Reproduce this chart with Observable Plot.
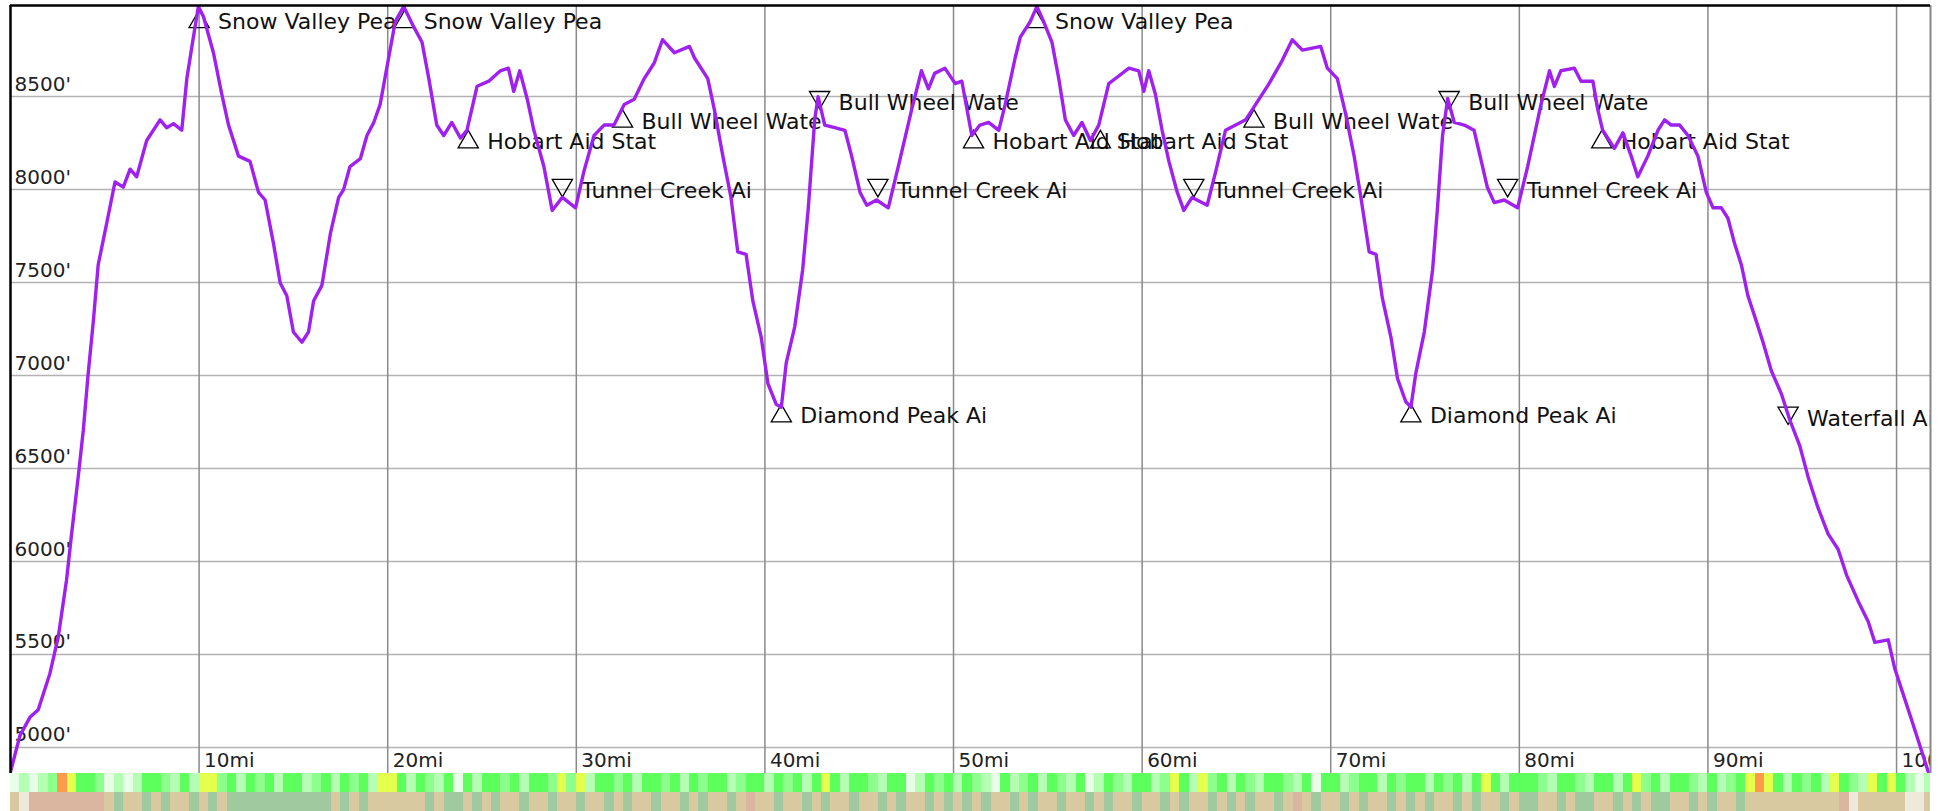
<!DOCTYPE html>
<html><head><meta charset="utf-8">
<script src="https://cdn.jsdelivr.net/npm/d3@7"></script>
<script src="https://cdn.jsdelivr.net/npm/@observablehq/plot@0.6"></script>
<style>body{margin:0;background:#fff} #chart svg{display:block}</style>
</head><body><div id="chart"></div>
<script>
// ---- profile (mile, elevation ft) ----
const miles = [0,0.5,1.03,1.47,2.09,2.53,2.97,3.24,3.59,3.86,4.12,4.39,4.65,5.1,5.54,5.98,6.34,6.69,7.22,7.93,8.28,8.64,9.08,9.35,9.61,9.96,10.23,10.76,11.2,11.56,12.09,12.7,13.15,13.5,13.95,14.3,14.65,15,15.45,15.8,16.07,16.51,16.96,17.4,17.66,18,18.55,18.9,19.26,19.6,20.05,20.4,20.85,21.38,21.82,22.18,22.6,22.97,23.4,23.86,24.2,24.74,25.36,25.97,26.4,26.68,27,27.4,27.75,28.28,28.72,29.26,29.96,30.4,30.94,31.47,32,32.54,33.07,33.6,34.13,34.57,35.2,36,36.26,36.97,37.32,37.77,38.2,38.56,39,39.36,39.8,40.16,40.6,40.87,41.13,41.58,42,42.3,42.64,42.82,43.17,43.7,44.24,44.6,45.04,45.4,45.92,46.54,47.07,47.78,48.3,48.67,49,49.54,50.09,50.44,50.97,51.4,51.86,52.4,52.74,53.27,53.54,54.07,54.42,54.78,55.22,55.58,55.93,56.37,56.81,57.26,57.7,58.23,58.76,59.3,59.82,60.09,60.35,60.7,61.06,61.42,61.86,62.21,62.65,63.45,63.9,64.42,64.96,65.49,66.02,66.73,67.43,67.96,68.5,69.47,69.82,70.35,70.8,71.24,71.6,72.04,72.4,72.74,73.19,73.54,73.98,74.25,74.51,74.96,75.4,75.66,75.93,76.2,76.55,77.08,77.6,78.05,78.3,78.67,79.2,79.91,80.44,81.15,81.6,81.86,82.2,82.92,83.27,83.9,84.16,84.42,85.04,85.49,85.93,86.28,86.81,87.35,87.7,88.05,88.5,88.94,89.47,89.91,90.27,90.71,91.06,91.42,91.77,92.12,92.57,92.92,93.36,93.9,94.34,94.87,95.31,95.84,96.37,96.9,97.35,97.96,98.5,98.85,99.56,99.9,100.35,100.8,101.24,101.68];
const elevation = [4869,5064,5162,5203,5398,5593,5899,6149,6455,6706,7012,7290,7596,7818,8041,8013,8110,8069,8264,8375,8333,8355,8319,8597,8764,8985,8931,8736,8514,8347,8180,8152,7985,7944,7707,7498,7429,7234,7179,7234,7401,7485,7763,7958,8000,8124,8166,8291,8361,8458,8709,8903,8985,8875,8792,8597,8347,8291,8361,8277,8319,8556,8583,8639,8653,8528,8639,8486,8319,8124,7888,7958,7902,8097,8291,8347,8347,8458,8486,8597,8681,8806,8736,8770,8709,8597,8430,8180,7958,7665,7652,7401,7207,6956,6845,6830,7068,7262,7568,7902,8375,8500,8347,8333,8319,8180,7986,7916,7944,7902,8124,8430,8639,8542,8625,8653,8570,8583,8291,8347,8361,8319,8458,8709,8820,8903,8985,8903,8792,8597,8375,8291,8361,8264,8347,8570,8611,8653,8639,8528,8639,8514,8319,8152,7986,7888,7958,7916,8097,8319,8347,8375,8458,8570,8695,8806,8750,8770,8653,8597,8403,8180,7958,7665,7652,7415,7207,6984,6859,6830,7012,7234,7568,7902,8291,8490,8361,8347,8319,8124,8013,7930,7944,7902,8124,8458,8639,8555,8639,8653,8583,8583,8430,8319,8222,8305,8180,8069,8180,8319,8375,8347,8347,8291,8180,7986,7902,7902,7846,7707,7596,7429,7290,7179,7026,6900,6761,6622,6455,6288,6149,6066,5927,5788,5676,5565,5579,5426,5287,5148,5009,4869];

// ---- waypoints ----
const wpNames = ["Snow Valley Pea","Snow Valley Pea","Hobart Aid Stat","Tunnel Creek Ai","Bull Wheel Wate","Diamond Peak Ai","Bull Wheel Wate","Tunnel Creek Ai","Hobart Aid Stat","Snow Valley Pea","Hobart Aid Stat","Tunnel Creek Ai","Bull Wheel Wate","Diamond Peak Ai","Bull Wheel Wate","Tunnel Creek Ai","Hobart Aid Stat","Waterfall Aid S"];
const wpMiles = [10.0,20.9,24.27,29.26,32.45,40.87,42.9,45.99,51.06,54.37,57.79,62.74,65.93,74.25,76.28,79.38,84.37,94.25];
const wpElev  = [8965,8965,8319,8055,8430,6845,8528,8055,8319,8965,8319,8055,8430,6845,8528,8055,8319,6831];
const wpDir   = ["up","up","up","down","up","up","down","down","up","up","up","down","up","up","down","down","up","down"];

// ---- ticks ----
const yTicks = [5000,5500,6000,6500,7000,7500,8000,8500];
const xTicks = [10,20,30,40,50,60,70,80,90,100];
const xDomain = [0, 101.8];
const yDomain = [4860, 8990];

// ---- colour strips (one code per half mile) ----
const gradePalette = {W:"#e6ffe6", L:"#b4ffb4", M:"#8cff8c", G:"#5cff5c", Y:"#e4ff4c", O:"#ff9a4c"};
const surfacePalette = {T:"#d9c9a1", G:"#a0c9a0", P:"#dab59f", W:"#efe9dc"};
const gradeCodes = ("WLWLMOYGGM" + "WLWLGGMLGL" + "YYMGLGMGLG" + "GLMGLGMGLY" + "YGLGMLGWGL" +
  "GGMGLGGMYM" + "YLGGMGLGGM" + "GLGMGGLMGG" + "LGMGLGYGLG" + "GMLGGWLGMG" +
  "LGMLWGLMGL" + "GMLGWLGMLG" + "GLMYGLYMGL" + "GMLGGMLGWG" + "GLMGGLGMGG" +
  "LGMGLGYGLG" + "GGMLGGMLGG" + "LGYMGLGGML" + "GLMGYOYGLG" + "MGLYGMLYGY" + "GLWL").split("");
const surfaceCodes = ("TWPPPPPPPP" + "TGTTGTGTTG" + "TGTGGGGGGG" + "GGGGTGTGTT" + "TTTTGTGGTG" +
  "TGTTGTTGTT" + "GTTGTGTTGT" + "TGTGTTGTPT" + "TGTTGTGTTG" + "TTGTGTTGTG" +
  "TGTGTTGTGT" + "TGTTGTGTTG" + "TTGTGTTGTG" + "TGTTGTPTGT" + "TGTGTTGTGT" +
  "GTTGTGTTGT" + "GGTTGTGGTT" + "GTGTGGTTGT" + "GTTGTTTTTT" + "TTTTPWTTTT" + "TWWT").split("");

const line = miles.map((m,i)=>({mile:m, elev:elevation[i]}));
const wps = wpMiles.map((m,i)=>({mile:m, elev:wpElev[i], name:wpNames[i], dir:wpDir[i]}));
const cells = [];
gradeCodes.forEach((c,i)=>cells.push({row:"grade", start:i/2, end:Math.min((i+1)/2,xDomain[1]), color:gradePalette[c]}));
surfaceCodes.forEach((c,i)=>cells.push({row:"surface", start:i/2, end:Math.min((i+1)/2,xDomain[1]), color:surfacePalette[c]}));

const W = 1942, mL = 10, mR = 12;
const font = "DejaVu Sans";

const main = Plot.plot({
  width: W, height: 773, marginLeft: mL, marginRight: mR, marginTop: 5, marginBottom: 0,
  x: {domain: xDomain, axis: null},
  y: {domain: yDomain, axis: null},
  style: {fontFamily: font, background: "white", overflow: "hidden"},
  marks: [
    Plot.ruleY(yTicks, {stroke: "#b2b2b2", strokeWidth: 1.5}),
    Plot.ruleX(xTicks, {stroke: "#8a8a8a", strokeWidth: 1.5}),
    Plot.text(yTicks, {y: d => d, frameAnchor: "left", text: d => `${d}'`, textAnchor: "start", lineAnchor: "bottom", dx: 4, dy: -6, fontSize: 20, fill: "#222"}),
    Plot.text(xTicks, {x: d => d, frameAnchor: "bottom", text: d => `${d}mi`, textAnchor: "start", lineAnchor: "bottom", dx: 5, dy: -7, fontSize: 20, fill: "#222", clip: true}),
    Plot.text(wps, {x: "mile", y: "elev", text: "name", textAnchor: "start", lineAnchor: "bottom", dx: 19, dy: 19, fontSize: 22, fill: "#111", clip: true}),
    Plot.dot(wps.filter(d => d.dir === "up"), {x: "mile", y: "elev", symbol: "triangle", r: 7.5, stroke: "#000", strokeWidth: 1.3, fill: "none", dy: 11.7}),
    Plot.dot(wps.filter(d => d.dir === "down"), {x: "mile", y: "elev", symbol: "triangle", rotate: 180, r: 7.5, stroke: "#000", strokeWidth: 1.3, fill: "none", dy: 5.9}),
    Plot.line(line, {x: "mile", y: "elev", stroke: "#a020f0", strokeWidth: 3.4, strokeLinejoin: "round", clip: true}),
    Plot.ruleX([xDomain[0]], {stroke: "#000", strokeWidth: 2.5}),
    Plot.ruleX([xDomain[1]], {stroke: "#888", strokeWidth: 2}),
    Plot.ruleY([yDomain[1]], {stroke: "#000", strokeWidth: 2.5})
  ]
});

const strips = Plot.plot({
  width: W, height: 38, marginLeft: mL, marginRight: mR, marginTop: 0, marginBottom: 0,
  x: {domain: xDomain, axis: null},
  y: {domain: ["grade", "surface"], axis: null, padding: 0},
  color: {type: "identity"},
  style: {background: "white"},
  marks: [
    Plot.barX(cells, {x1: "start", x2: "end", y: "row", fill: "color", shapeRendering: "crispEdges"})
  ]
});

document.getElementById("chart").append(main, strips);
</script>
</body></html>
